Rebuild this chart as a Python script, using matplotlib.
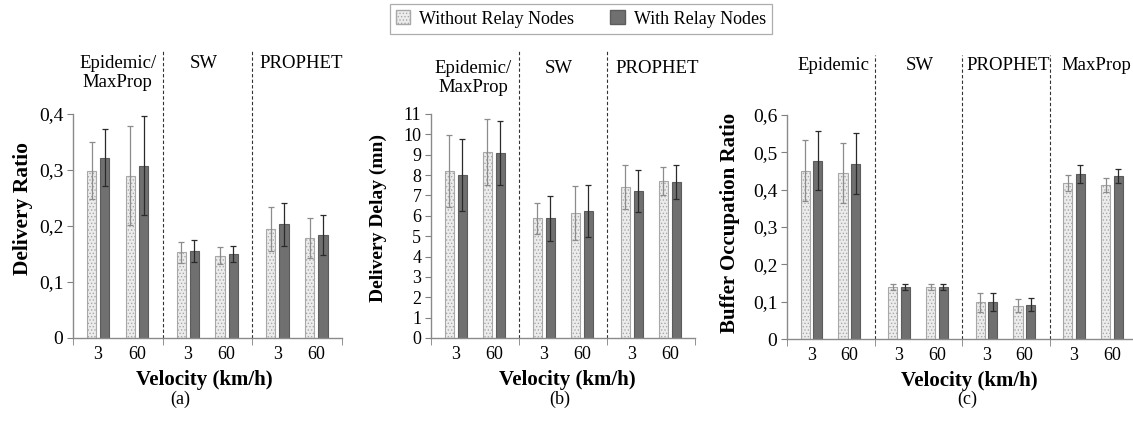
import matplotlib
matplotlib.use("Agg")
import matplotlib.pyplot as plt
import numpy as np
from matplotlib.patches import Patch

plt.rcParams['font.family'] = ['Liberation Serif', 'DejaVu Serif']
plt.rcParams['hatch.linewidth'] = 0.6

# ---------------- data ----------------
velocities = ["3", "60"]
series_names = ["Without Relay Nodes", "With Relay Nodes"]

groups_a = ["Epidemic/\nMaxProp", "SW", "PROPHET"]
without_a = [0.299, 0.290, 0.153, 0.147, 0.195, 0.178]
without_a_err = [0.051, 0.088, 0.019, 0.015, 0.039, 0.036]
with_a = [0.322, 0.308, 0.155, 0.150, 0.203, 0.184]
with_a_err = [0.051, 0.089, 0.020, 0.014, 0.038, 0.036]

groups_b = ["Epidemic/\nMaxProp", "SW", "PROPHET"]
without_b = [8.20, 9.11, 5.87, 6.13, 7.41, 7.70]
without_b_err = [1.75, 1.62, 0.74, 1.33, 1.08, 0.69]
with_b = [8.00, 9.07, 5.87, 6.23, 7.21, 7.66]
with_b_err = [1.75, 1.57, 1.10, 1.26, 1.04, 0.82]

groups_c = ["Epidemic", "SW", "PROPHET", "MaxProp"]
without_c = [0.451, 0.445, 0.139, 0.139, 0.098, 0.089, 0.418, 0.412]
without_c_err = [0.082, 0.080, 0.008, 0.008, 0.025, 0.018, 0.022, 0.018]
with_c = [0.478, 0.470, 0.139, 0.139, 0.099, 0.092, 0.442, 0.437]
with_c_err = [0.080, 0.082, 0.008, 0.008, 0.024, 0.018, 0.023, 0.019]

yticks_a = [0, 0.1, 0.2, 0.3, 0.4]
yticks_b = list(range(0, 12))
yticks_c = [0, 0.1, 0.2, 0.3, 0.4, 0.5, 0.6]

LIGHT = '#ececec'
LIGHT_EDGE = '#a8a8a8'
DARK = '#707070'
DARK_EDGE = '#5c5c5c'

fig = plt.figure(figsize=(11.33, 4.24), dpi=100)


def fmt(v):
    if float(v).is_integer():
        return str(int(v))
    return ("%g" % v).replace('.', ',')


def panel(rect, groups, wo, wo_err, wi, wi_err, yticks, ylabel, ylab_xy, ylab_fs,
          xlab_xy, text_y, dash_top, letter, letter_x, ytick_fs, label_shift):
    ax = fig.add_axes(rect)
    ng = len(groups)
    cat_x = []
    for g in range(ng):
        cat_x += [g * 3 + 0.84, g * 3 + 2.14]
    cat_x = np.array(cat_x)
    off = 0.22
    w = 0.31
    ax.bar(cat_x - off, wo, w, color=LIGHT, edgecolor=LIGHT_EDGE, linewidth=0.8,
           hatch='.....', zorder=2)
    ax.bar(cat_x + off, wi, w, color=DARK, edgecolor=DARK_EDGE, linewidth=0.8,
           zorder=2)
    ax.errorbar(cat_x - off, wo, yerr=wo_err, fmt='none', ecolor='#8c8c8c',
                elinewidth=0.9, capsize=2, capthick=0.9, zorder=3)
    ax.errorbar(cat_x + off, wi, yerr=wi_err, fmt='none', ecolor='#2a2a2a',
                elinewidth=0.9, capsize=2, capthick=0.9, zorder=3)
    ax.set_xlim(0, ng * 3)
    ax.set_ylim(yticks[0], yticks[-1])
    ax.set_yticks(yticks)
    ax.set_yticklabels([fmt(v) for v in yticks], fontsize=ytick_fs)
    ax.set_xticks(cat_x)
    ax.set_xticklabels(velocities * ng, fontsize=13)
    ax.set_xticks(np.arange(0, ng * 3 + 1, 3), minor=True)
    ax.tick_params(axis='x', which='major', length=0, pad=6)
    ax.tick_params(axis='x', which='minor', length=5, color='#808080', direction='out')
    ax.tick_params(axis='y', length=4, color='#808080', pad=3)
    for s in ['top', 'right']:
        ax.spines[s].set_visible(False)
    for s in ['left', 'bottom']:
        ax.spines[s].set_color('#8a8a8a')
        ax.spines[s].set_linewidth(1.0)
    for g in range(1, ng):
        ax.axvline(g * 3, ymin=0, ymax=dash_top, color='#333333', linestyle=(0, (3, 2)),
                   linewidth=0.8, clip_on=False, zorder=1)
    for g, name in enumerate(groups):
        ax.text(g * 3 + 1.5 + label_shift[g], text_y, name, ha='center', va='top',
                fontsize=13.5, transform=ax.get_xaxis_transform(), linespacing=1.15)
    ax.set_ylabel(ylabel, fontsize=ylab_fs, fontweight='bold')
    ax.yaxis.set_label_coords(*ylab_xy)
    ax.set_xlabel("Velocity (km/h)", fontsize=15, fontweight='bold')
    ax.xaxis.set_label_coords(*xlab_xy)
    fig.text(letter_x, 0.057, letter, ha='center', va='center', fontsize=13)
    return ax


H = 224 / 424
B = 86 / 424
ax_a = panel([73 / 1133, B, 269 / 1133, H], groups_a, without_a, without_a_err,
             with_a, with_a_err, yticks_a, "Delivery Ratio", (-0.149, 0.576), 15.5,
             (0.49, -0.145), 1.263, 1.286, "(a)", 180 / 1133, 14, [0, -0.12, 0.15])
ax_b = panel([431 / 1133, B, 264 / 1133, H], groups_b, without_b, without_b_err,
             with_b, with_b_err, yticks_b, "Delivery Delay (mn)", (-0.167, 0.536), 14,
             (0.515, -0.145), 1.24, 1.286, "(b)", 560 / 1133, 13, [-0.05, -0.15, 0.2])
ax_c = panel([787 / 1133, 85 / 424, 350 / 1133, H], groups_c, without_c, without_c_err,
             with_c, with_c_err, yticks_c, "Buffer Occupation Ratio", (-0.134, 0.52), 15,
             (0.52, -0.145), 1.259, 1.268, "(c)", 967 / 1133, 14, [0.1, 0.05, 0.07, 0.1])

handles = [Patch(facecolor=LIGHT, edgecolor=LIGHT_EDGE, hatch='.....'),
           Patch(facecolor=DARK, edgecolor=DARK_EDGE)]
leg = fig.legend(handles, series_names, loc='center', bbox_to_anchor=(581 / 1133, 0.955),
                 ncol=2, fontsize=13, frameon=True, fancybox=False, handlelength=0.8,
                 handleheight=0.8, handletextpad=0.5, columnspacing=2.0,
                 borderpad=0.35, borderaxespad=0)
leg.get_frame().set_edgecolor('#999999')
leg.get_frame().set_linewidth(0.9)

fig.savefig("out.png", dpi=100)
